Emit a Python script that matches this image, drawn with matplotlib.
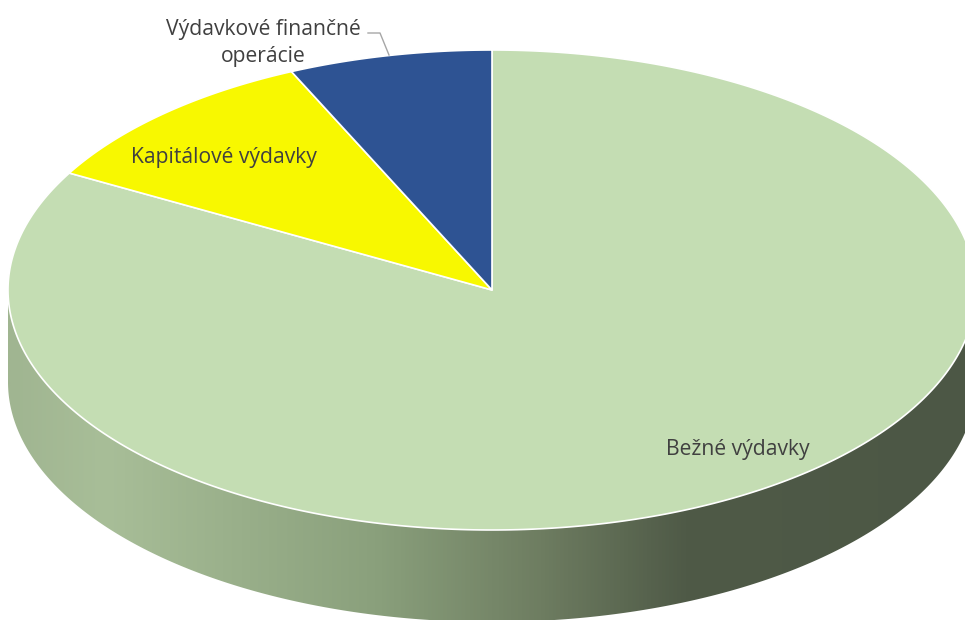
import numpy as np
import matplotlib
matplotlib.use("Agg")
import matplotlib.pyplot as plt
from matplotlib.patches import Polygon
from matplotlib.colors import LinearSegmentedColormap

# data (share of expenditures, %)
categories = ["Bežné výdavky", "Kapitálové výdavky", "Výdavkové finančné\noperácie"]
values = [83.1, 10.1, 6.8]
colors = ["#c4ddb3", "#f8f800", "#2e5393"]

plt.rcParams['font.family'] = ['Open Sans', 'DejaVu Sans']

W, H = 965, 620
fig = plt.figure(figsize=(W / 100, H / 100), dpi=100)
ax = fig.add_axes([0, 0, 1, 1])
ax.set_xlim(0, W)
ax.set_ylim(H, 0)
ax.axis("off")

# geometry of the tilted pie
cx, cy = 492, 290
rx, ry = 484, 240
depth = 92


def pt(t, dz=0):
    return cx + rx * np.cos(t), cy - ry * np.sin(t) + dz


# side wall (front half), shaded with a horizontal gradient
t = np.linspace(np.pi, 2 * np.pi, 300)
xt, yt = pt(t)
xb, yb = pt(t[::-1], depth)
side = Polygon(np.column_stack([np.r_[xt, xb], np.r_[yt, yb]]),
               closed=True, facecolor="none", edgecolor="none")
ax.add_patch(side)
cmap = LinearSegmentedColormap.from_list(
    "side", [(0, "#a0b591"), (0.1, "#a8be98"), (0.38, "#8aa07c"),
             (0.55, "#6e7d61"), (0.7, "#4f5a47"), (1, "#4c5745")])
grad = np.linspace(0, 1, 512).reshape(1, -1)
im = ax.imshow(grad, cmap=cmap, aspect="auto",
               extent=[cx - rx, cx + rx, cy + ry + depth + 2, cy - 5],
               zorder=1)
im.set_clip_path(side)

# top face slices, clockwise from 12 o'clock
fracs = np.array(values) / sum(values)
start = np.pi / 2
for v, c in zip(fracs, colors):
    end = start - v * 2 * np.pi
    ts = np.linspace(start, end, 400)
    xs, ys = pt(ts)
    poly = np.column_stack([np.r_[cx, xs], np.r_[cy, ys]])
    ax.add_patch(Polygon(poly, closed=True, facecolor=c, edgecolor="white",
                         linewidth=1.2, joinstyle="round", zorder=2))
    start = end

# labels
fs = 15.2
ax.text(738, 450, categories[0], ha="center", va="center",
        fontsize=fs, color="#404040", zorder=3)
ax.text(224, 158, categories[1], ha="center", va="center",
        fontsize=fs, color="#404040", zorder=3)
ax.text(263, 43, categories[2], ha="center", va="center",
        fontsize=fs, color="#404040", linespacing=1.4, zorder=3)
# leader line for the small slice
ax.plot([368, 380, 389], [33, 33, 55], color="#a6a6a6", linewidth=1,
        zorder=3)

fig.savefig("out.png", dpi=100)
